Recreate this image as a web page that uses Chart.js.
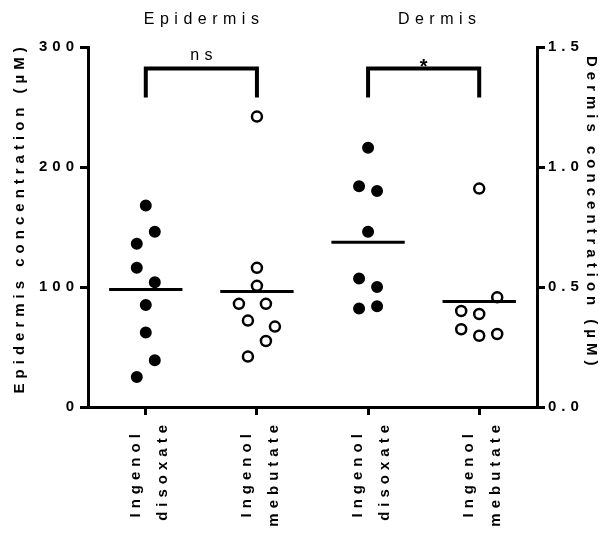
<!DOCTYPE html>
<html>
<head>
<meta charset="utf-8">
<script src="https://cdn.jsdelivr.net/npm/chart.js@4"></script>
<style>
  body { margin: 0; background: #fff; }
  canvas { display: block; }
</style>
</head>
<body>
<canvas id="myChart" width="603" height="533"></canvas>
<script>
const categories = ['Ingenol disoxate', 'Ingenol mebutate', 'Ingenol disoxate', 'Ingenol mebutate'];
const tissues = ['Epidermis', 'Dermis'];
const significance = ['ns', '*'];

// epidermis, µM (left axis)
const epiDisoxate = [168, 146, 136, 116, 104, 85, 62, 39, 25];
const epiMebutate = [242, 116, 101, 86, 86, 72, 67, 55, 42];
// dermis, µM (right axis)
const dermDisoxate = [1.08, 0.92, 0.90, 0.73, 0.535, 0.50, 0.41, 0.42];
const dermMebutate = [0.91, 0.457, 0.40, 0.3875, 0.324, 0.297, 0.304];

// which side of the column each dot sits on
const epiDisoxateSlot = [0, 1, -1, -1, 1, 0, 0, 1, -1];
const epiMebutateSlot = [0, 0, 0, -2, 1, -1, 2, 1, -1];
const dermDisoxateSlot = [0, -1, 1, 0, -1, 1, -1, 1];
const dermMebutateSlot = [0, 2, -2, 0, -2, 0, 2];

const leftTicks = [0, 100, 200, 300];
const rightTicks = [0, 0.5, 1.0, 1.5];

const FONT = '"Liberation Sans", Arial, sans-serif';
const SLOT = 0.081;
const HALF = 0.33;

Chart.defaults.font.family = FONT;
Chart.defaults.color = '#000';

function dots(values, slots, cat, axis, filled) {
    return {
        data: values.map((v, i) => ({ x: cat + slots[i] * SLOT, y: v })),
        yAxisID: axis,
        pointRadius: 5,
        pointHoverRadius: 5,
        pointBorderWidth: filled ? 2 : 2.5,
        pointBackgroundColor: filled ? '#000' : '#fff',
        pointBorderColor: '#000',
        showLine: false,
        clip: false
    };
}

function meanLine(values, cat, axis) {
    const m = values.reduce((a, b) => a + b, 0) / values.length;
    return {
        data: [{ x: cat - HALF, y: m }, { x: cat + HALF, y: m }],
        yAxisID: axis,
        showLine: true,
        borderColor: '#000',
        borderWidth: 3,
        pointRadius: 0,
        clip: false
    };
}

function bracket(a, b, axis, max) {
    const top = max * 0.94, foot = max * 0.86;
    return {
        data: [{ x: a, y: foot }, { x: a, y: top }, { x: b, y: top }, { x: b, y: foot }],
        yAxisID: axis,
        showLine: true,
        borderColor: '#000',
        borderWidth: 4,
        borderJoinStyle: 'miter',
        pointRadius: 0,
        clip: false
    };
}

const textPlugin = {
    id: 'texts',
    beforeDraw(chart) {
        chart.ctx.letterSpacing = '5px';
    },
    afterDraw(chart) {
        const ctx = chart.ctx;
        const x = chart.scales.x;
        ctx.save();
        ctx.fillStyle = '#000';
        ctx.textAlign = 'center';
        ctx.textBaseline = 'alphabetic';
        ctx.font = '16px ' + FONT;
        ctx.letterSpacing = '5.5px';
        const titleAt = [0.5, 2.62];
        tissues.forEach((t, i) => {
            ctx.fillText(t, x.getPixelForValue(titleAt[i]) + 2.75, 24);
        });
        const axes = [chart.scales.y, chart.scales.y2];
        significance.forEach((s, i) => {
            const yAxis = axes[i];
            const top = yAxis.getPixelForValue(yAxis.max * 0.94);
            const mid = x.getPixelForValue(i * 2 + 0.5);
            if (s === '*') {
                ctx.font = 'bold 20px ' + FONT;
                ctx.letterSpacing = '0px';
                ctx.fillText(s, mid, top + 4);
            } else {
                ctx.font = '16px ' + FONT;
                ctx.letterSpacing = '5.5px';
                ctx.fillText(s, mid + 2.75, top - 9);
            }
        });
        ctx.restore();
    }
};

const tickGrid = {
    drawOnChartArea: false,
    drawTicks: true,
    tickLength: 8,
    lineWidth: 3,
    tickWidth: 3,
    color: '#000',
    tickColor: '#000'
};
const axisBorder = { display: true, width: 3, color: '#000' };

const config = {
    type: 'scatter',
    data: {
        datasets: [
            meanLine(epiDisoxate, 0, 'y'),
            meanLine(epiMebutate, 1, 'y'),
            meanLine(dermDisoxate, 2, 'y2'),
            meanLine(dermMebutate, 3, 'y2'),
            bracket(0, 1, 'y', 300),
            bracket(2, 3, 'y2', 1.5),
            dots(epiDisoxate, epiDisoxateSlot, 0, 'y', true),
            dots(epiMebutate, epiMebutateSlot, 1, 'y', false),
            dots(dermDisoxate, dermDisoxateSlot, 2, 'y2', true),
            dots(dermMebutate, dermMebutateSlot, 3, 'y2', false)
        ]
    },
    options: {
        responsive: false,
        animation: false,
        devicePixelRatio: 1,
        layout: { padding: { top: 47, left: 0, right: 0, bottom: 0 } },
        plugins: {
            legend: { display: false },
            tooltip: { enabled: false }
        },
        scales: {
            x: {
                type: 'linear',
                min: -0.52,
                max: 3.52,
                afterBuildTicks: (s) => { s.ticks = categories.map((c, i) => ({ value: i })); },
                afterFit: (s) => { s.height = 126; },
                grid: tickGrid,
                border: axisBorder,
                ticks: {
                    autoSkip: false,
                    minRotation: 90,
                    maxRotation: 90,
                    padding: 5,
                    labelOffset: -10,
                    color: '#000',
                    font: { size: 15, weight: 'bold', lineHeight: '27px' },
                    callback: (v) => {
                        const parts = categories[v].split(' ');
                        return [parts[0] + ' ', parts[1]];
                    }
                }
            },
            y: {
                position: 'left',
                min: 0,
                max: 300,
                afterBuildTicks: (s) => { s.ticks = leftTicks.map((v) => ({ value: v })); },
                afterFit: (s) => { s.width = 88; },
                grid: tickGrid,
                border: axisBorder,
                ticks: {
                    padding: 1,
                    color: '#000',
                    font: { size: 15, weight: 'bold' },
                    callback: (v) => String(v)
                },
                title: {
                    display: true,
                    text: '  Epidermis concentration (µM)',
                    color: '#000',
                    font: { size: 15, weight: 'bold' },
                    padding: { top: 11, bottom: 0 }
                }
            },
            y2: {
                position: 'right',
                min: 0,
                max: 1.5,
                afterBuildTicks: (s) => { s.ticks = rightTicks.map((v) => ({ value: v })); },
                afterFit: (s) => { s.width = 66; },
                grid: tickGrid,
                border: axisBorder,
                ticks: {
                    padding: 3,
                    color: '#000',
                    font: { size: 15, weight: 'bold' },
                    callback: (v) => v.toFixed(1)
                },
                title: {
                    display: true,
                    text: 'Dermis concentration (µM)   ',
                    color: '#000',
                    font: { size: 15, weight: 'bold' },
                    padding: { top: 3, bottom: 0 }
                }
            }
        }
    },
    plugins: [textPlugin]
};

const myChart = new Chart(document.getElementById('myChart'), config);
</script>
</body>
</html>
